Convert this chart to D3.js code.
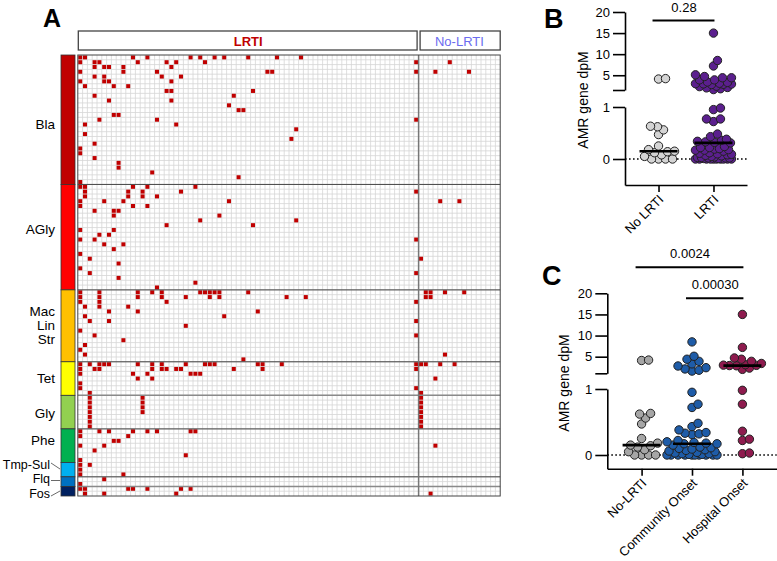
<!DOCTYPE html>
<html>
<head>
<meta charset="utf-8">
<script src="https://cdn.jsdelivr.net/npm/d3@7"></script>
<style>
body{margin:0;background:#fff}
svg{font-family:"Liberation Sans",Arial,sans-serif}
</style>
</head>
<body>
<svg id="fig" width="777" height="561"></svg>
<script>
// ---- heatmap data ----
const classes = ["Bla","AGly","Mac","Tet","Gly","Phe","Tmp-Sul","Flq","Fos"];
const classRows = [27,22,15,7,7,7,3,2,2];
const classColors = ["#c00000","#ff0000","#ffc000","#ffff00","#92d050","#00b050","#00b0f0","#0070c0","#002060"];
const nLRTI = 71, nNoLRTI = 17;
// red cells: for each gene row, the sample columns (0-70 LRTI, 71-87 No-LRTI)
const hits = [
 [0,1,11,14,23,25,28,30,35,41,46],[0,3,4,12,18,20,26,70,77],[3,5,6,9,19],[0,9,16,39,40,70,74,81],
 [3,5,17,21],[0,5,6,19],[1,7,10],[18,19,36],[3,32],[6,19],[31],[33,34],[7,8],[4,16,70],[1,20],
 [45],[1],[44],[3],[0],[0],[3],[8],[8],[15],[33],[0],
 // AGly
 [0,1,11,14,24],[1,10,13,21,70],[1,10,13,16],[0,5,9,31,75,79],[0,11,14],[3,7,8],[7,29],[25,45],
 [18,36],[0,7],[4,6],[0,3,70],[5,9],[7],[0],[2,71],[8],[0],[2,70],[8],[24],[16],
 // Mac Lin Str
 [0,4,12,15,17,25,26,27,28,29,35,72,73,76,80],[0,4,12,17,22,27,29,43,47,72,73],[0,4,18,70],
 [1,4,10],[6,12,37],[1,30],[2,6,70],[22],[0],[3,70],[9],[1],[0],[1,76],[34],
 // Tet
 [0,2,4,5,6,12,15,17,22,26,27,28,37,38,42,70,71,72,75,78],[0,3,4,15,17,18,20,21,32,38,70],
 [0,11,14,23,24,25],[12,15,74],[0],[0,70],[2,71],
 // Gly
 [2,13,71],[2,13,71],[2,13,71],[2,13,71],[2,71],[2,71],[2,71],
 // Phe
 [0,4,6,11,14,16,23,24],[0,10],[7,8],[0,5,74],[3],[22],[0],
 // Tmp-Sul
 [0,2],[0],[0,9],
 // Flq
 [5],[0],
 // Fos
 [0,1,10,11,14,21,23],[1,5,20,73]
];

// ---- dot plot data (AMR gene dpM per sample) ----
const noLrti = [4.2,4.1,0.63,0.62,0.56,0.47,0.25,0.18,0.15,0.14,0.12,0.08,0.05,0,0,0,0];
const community = [8.5,5.1,4.4,3.9,3.3,2.8,2.4,2.1,1.8,1.6,0.95,0.77,0.72,0.48,0.43,0.38,0.34,0.33,0.32,0.31,
  0.22,0.2,0.19,0.18,0.17,0.17,0.15,0.12,0.11,0.1,0.09,0.08,0.07,0.06,0.05,0.04,0.03,0.02,0.02,0.01,0.01,
  0,0,0,0,0,0,0,0,0,0];
const hospital = [15,7.2,4.7,4.4,3.9,3.4,3.1,3.0,2.95,2.9,2.85,2.3,2.0,0.98,0.77,0.36,0.24,0.22,0.03,0.02];
const lrti = community.concat(hospital);

const svg = d3.select("#fig");

// ================= Panel A =================
const nCols = nLRTI + nNoLRTI, nRows = d3.sum(classRows);
const x = d3.scaleBand().domain(d3.range(nCols)).range([77.8, 500.2]);
const y = d3.scaleBand().domain(d3.range(nRows)).range([55, 496]);
const bw = x.bandwidth(), bh = y.bandwidth();
const X0 = x.range()[0], X1 = x.range()[1], Y0 = y.range()[0], Y1 = y.range()[1];

const hm = svg.append("g");
hm.append("rect").attr("x", X0).attr("y", Y0).attr("width", X1 - X0).attr("height", Y1 - Y0).attr("fill", "#fff");
hm.append("g").selectAll("line").data(d3.range(1, nCols)).join("line")
  .attr("x1", i => X0 + i * bw).attr("x2", i => X0 + i * bw).attr("y1", Y0).attr("y2", Y1)
  .attr("stroke", "#d6d6d6").attr("stroke-width", 0.8);
hm.append("g").selectAll("line").data(d3.range(1, nRows)).join("line")
  .attr("y1", i => Y0 + i * bh).attr("y2", i => Y0 + i * bh).attr("x1", X0).attr("x2", X1)
  .attr("stroke", "#d6d6d6").attr("stroke-width", 0.8);

const cells = hits.flatMap((cols, r) => cols.map(c => ({r, c})));
hm.append("g").selectAll("rect").data(cells).join("rect")
  .attr("x", d => x(d.c) + 0.4).attr("y", d => y(d.r) + 0.4)
  .attr("width", bw - 0.8).attr("height", bh - 0.8).attr("fill", "#c00000");

const starts = Array.from(d3.cumsum([0].concat(classRows))).slice(0, classes.length);
// group separators (no rule between Phe and Tmp-Sul)
const seps = starts.map((s, i) => ({s, i})).filter(d => d.i > 0 && d.i !== 6);
hm.append("g").selectAll("line").data(seps).join("line")
  .attr("x1", X0).attr("x2", X1).attr("y1", d => y(d.s)).attr("y2", d => y(d.s))
  .attr("stroke", d => (d.i === 4 || d.i === 8) ? "#8a8a8a" : "#444")
  .attr("stroke-width", d => (d.i === 4 || d.i === 8) ? 1.5 : 1);
hm.append("line").attr("x1", x(nLRTI)).attr("x2", x(nLRTI)).attr("y1", Y0).attr("y2", Y1)
  .attr("stroke", "#777").attr("stroke-width", 1.5);
hm.append("rect").attr("x", X0).attr("y", Y0).attr("width", X1 - X0).attr("height", Y1 - Y0)
  .attr("fill", "none").attr("stroke", "#444").attr("stroke-width", 1);

// colour bar
hm.append("g").selectAll("rect").data(classes).join("rect")
  .attr("x", 61).attr("width", 14)
  .attr("y", (d, i) => y(starts[i])).attr("height", (d, i) => classRows[i] * bh)
  .attr("fill", (d, i) => classColors[i]).attr("stroke", "#333").attr("stroke-width", 0.8);

// headers
hm.append("rect").attr("x", X0 + 0.5).attr("y", 31).attr("width", x(nLRTI) - X0 - 2).attr("height", 19)
  .attr("fill", "#fff").attr("stroke", "#444").attr("stroke-width", 1.3);
hm.append("rect").attr("x", x(nLRTI) + 1.5).attr("y", 31).attr("width", X1 - x(nLRTI) - 1.5).attr("height", 19)
  .attr("fill", "#fff").attr("stroke", "#444").attr("stroke-width", 1.3);
hm.append("text").attr("x", (X0 + x(nLRTI)) / 2).attr("y", 45.5).attr("text-anchor", "middle")
  .attr("font-size", 13).attr("font-weight", "bold").attr("fill", "#c00000").text("LRTI");
hm.append("text").attr("x", (x(nLRTI) + X1) / 2).attr("y", 45.5).attr("text-anchor", "middle")
  .attr("font-size", 13).attr("fill", "#6b6bef").text("No-LRTI");

// class labels
const labelLines = [
  {t: "Bla", y: 129}, {t: "AGly", y: 234}, {t: "Mac", y: 316}, {t: "Lin", y: 330}, {t: "Str", y: 344},
  {t: "Tet", y: 383}, {t: "Gly", y: 418}, {t: "Phe", y: 445}
];
hm.append("g").selectAll("text").data(labelLines).join("text")
  .attr("x", 55).attr("y", d => d.y).attr("text-anchor", "end").attr("font-size", 13.5).text(d => d.t);
const smallLabels = [
  {t: "Tmp-Sul", y: 469, lx: 51, ly: 463, tx: 60, ty: 469},
  {t: "Flq", y: 483, lx: 51, ly: 480.5, tx: 60, ty: 480.5},
  {t: "Fos", y: 498, lx: 51, ly: 496, tx: 60, ty: 491}
];
hm.append("g").selectAll("text").data(smallLabels).join("text")
  .attr("x", 50).attr("y", d => d.y).attr("text-anchor", "end").attr("font-size", 12.5).text(d => d.t);
hm.append("g").selectAll("line").data(smallLabels).join("line")
  .attr("x1", d => d.lx).attr("y1", d => d.ly).attr("x2", d => d.tx).attr("y2", d => d.ty)
  .attr("stroke", "#444").attr("stroke-width", 0.8);

svg.append("text").attr("x", 43).attr("y", 27).attr("font-size", 25).attr("font-weight", "bold").text("A");

// ================= Dot plots =================
function swarm(vals, cx, yv, r, maxW) {
  const pts = vals.map(v => ({v, y: yv(v)})).sort((a, b) => b.y - a.y);
  const placed = [];
  pts.forEach(p => {
    let best = 0, bestD = -1;
    for (let k = 0; k <= maxW * 2; k++) {
      const off = (k % 2 ? 1 : -1) * Math.ceil(k / 2);
      let md = Infinity;
      placed.forEach(q => { md = Math.min(md, Math.hypot(cx + off - q.x, p.y - q.y)); });
      if (md >= 2 * r * 0.8) { best = off; break; }
      if (md > bestD) { bestD = md; best = off; }
    }
    p.x = cx + best;
    placed.push(p);
  });
  return placed;
}

function dotPlot(o) {
  const g = svg.append("g");
  const lo = d3.scaleLinear().domain([o.loMin, 1]).range([o.yBase, o.y1]);
  const hi = d3.scaleLinear().domain([o.hiMin, 20]).range([o.yBrk, o.y20]);
  const yv = v => v > 1.01 ? hi(v) : lo(v);
  const xs = d3.scalePoint().domain(o.cats.map(c => c.name)).range([o.ax, o.xEnd]).padding(o.pad);

  const up = g.append("g").attr("transform", `translate(${o.ax},0)`)
    .call(d3.axisLeft(hi).tickValues([o.hiMin, 5, 10, 15, 20]).tickFormat(v => v === o.hiMin ? "" : v)
      .tickSize(12).tickSizeOuter(0).tickPadding(3));
  const dn = g.append("g").attr("transform", `translate(${o.ax},0)`)
    .call(d3.axisLeft(lo).tickValues([0, 1]).tickFormat(d3.format("d")).tickSize(12).tickSizeOuter(0).tickPadding(3));
  const xa = g.append("g").attr("transform", `translate(0,${o.yBase})`)
    .call(d3.axisBottom(xs).tickSize(7).tickSizeOuter(0));
  xa.selectAll("text").attr("x", -7).attr("y", 10).attr("dy", "0.35em")
    .attr("transform", "rotate(-45)").attr("text-anchor", "end");
  [up, dn, xa].forEach(a => {
    a.selectAll("path,line").attr("stroke", "#000").attr("stroke-width", 1.6);
    a.selectAll("text").attr("font-size", 13).attr("fill", "#000").attr("font-family", "Liberation Sans, Arial, sans-serif");
  });

  g.append("line").attr("x1", o.ax).attr("x2", o.xEnd).attr("y1", lo(0)).attr("y2", lo(0))
    .attr("stroke", "#000").attr("stroke-width", 1.4).attr("stroke-dasharray", "1.6,2.4");

  g.append("text").attr("transform", `translate(${o.titleX},${o.titleY}) rotate(-90)`)
    .attr("text-anchor", "middle").attr("font-size", 14).text("AMR gene dpM");

  o.cats.forEach(c => {
    const cx = xs(c.name);
    const pts = swarm(c.vals, cx, yv, 4.2, c.w);
    g.append("g").selectAll("circle").data(pts).join("circle")
      .attr("cx", d => d.x).attr("cy", d => d.y).attr("r", 4.2)
      .attr("fill", c.color).attr("stroke", "#222").attr("stroke-width", 1);
    const m = yv(d3.median(c.vals));
    g.append("line").attr("x1", cx - 19).attr("x2", cx + 19).attr("y1", m).attr("y2", m)
      .attr("stroke", "#000").attr("stroke-width", 2.6);
  });

  o.sig.forEach(s => {
    g.append("line").attr("x1", xs(s.a) - 6).attr("x2", xs(s.b) + 1).attr("y1", s.y).attr("y2", s.y)
      .attr("stroke", "#000").attr("stroke-width", 2);
    g.append("text").attr("x", (xs(s.a) + xs(s.b)) / 2 - 2).attr("y", s.y - 9).attr("text-anchor", "middle")
      .attr("font-size", 13).text(s.p);
  });
  g.append("text").attr("x", o.letterX).attr("y", o.letterY).attr("font-size", 27).attr("font-weight", "bold").text(o.letter);
}

dotPlot({
  letter: "B", letterX: 544, letterY: 28,
  ax: 625, xEnd: 747, pad: 0.61,
  yBase: 185, y1: 107, loMin: -0.5, yBrk: 90, y20: 12, hiMin: 1.5,
  titleX: 588, titleY: 100,
  cats: [{name: "No LRTI", vals: noLrti, color: "#d4d4d4", w: 16},
         {name: "LRTI", vals: lrti, color: "#5b1f8e", w: 18}],
  sig: [{a: "No LRTI", b: "LRTI", y: 20.5, p: "0.28"}]
});

dotPlot({
  letter: "C", letterX: 542, letterY: 285,
  ax: 607.3, xEnd: 776.7, pad: 0.68,
  yBase: 468.7, y1: 389, loMin: -0.2076, yBrk: 373.3, y20: 293.3, hiMin: 1.07,
  titleX: 569, titleY: 383,
  cats: [{name: "No-LRTI", vals: noLrti, color: "#a6a6a6", w: 16},
         {name: "Community Onset", vals: community, color: "#1e5ca8", w: 25},
         {name: "Hospital Onset", vals: hospital, color: "#8e1b4e", w: 19}],
  sig: [{a: "No-LRTI", b: "Hospital Onset", y: 267.3, p: "0.0024"},
        {a: "Community Onset", b: "Hospital Onset", y: 298.3, p: "0.00030"}]
});
</script>
</body>
</html>
